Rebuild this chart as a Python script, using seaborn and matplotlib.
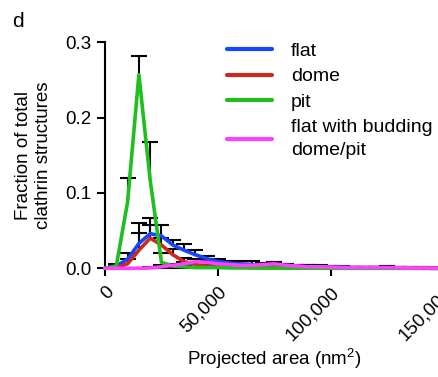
import matplotlib
matplotlib.use("Agg")
import matplotlib.pyplot as plt
from matplotlib.lines import Line2D
from matplotlib.ticker import FuncFormatter
import seaborn as sns
import pandas as pd
import numpy as np

# ---- data ----
area = [0, 5000, 10000, 15000, 20000, 25000, 30000, 35000, 40000, 45000,
        50000, 55000, 60000, 65000, 70000, 75000, 80000, 85000, 90000, 95000,
        100000, 105000, 110000, 115000, 120000, 125000, 130000, 135000, 140000,
        145000, 150000]

flat = [0.000, 0.003, 0.012, 0.033, 0.046, 0.043, 0.031, 0.024, 0.018, 0.013,
        0.009, 0.007, 0.006, 0.005, 0.003, 0.004, 0.004, 0.003, 0.002, 0.002,
        0.002, 0.0015, 0.001, 0.001, 0.001, 0.001, 0.0005, 0.0005, 0.0003, 0.0, 0.0]
flat_err = [0.0, 0.002, 0.008, 0.014, 0.012, 0.015, 0.006, 0.008, 0.006, 0.003,
            0.003, 0.003, 0.004, 0.005, 0.003, 0.004, 0.002, 0.002, 0.002, 0.002,
            0.001, 0.001, 0.001, 0.001, 0.001, 0.002, 0.001, 0.001, 0.001, 0.0, 0.0]

dome = [0.000, 0.001, 0.006, 0.024, 0.040, 0.031, 0.018, 0.009, 0.005, 0.003,
        0.002, 0.002, 0.0015, 0.001, 0.001, 0.001, 0.001, 0.0005, 0.0005, 0.0005,
        0.0005, 0.0003, 0.0003, 0.0003, 0.0002, 0.0002, 0.0001, 0.0001, 0.0, 0.0, 0.0]
dome_err = [0.0, 0.001, 0.006, 0.036, 0.027, 0.009, 0.008, 0.005, 0.003, 0.002,
            0.002, 0.002, 0.001, 0.001, 0.001, 0.001, 0.001, 0.001, 0.001, 0.001,
            0.001, 0.001, 0.001, 0.001, 0.001, 0.001, 0.001, 0.0005, 0.0, 0.0, 0.0]

pit = [0.000, 0.003, 0.088, 0.257, 0.117, 0.008, 0.003, 0.002, 0.001, 0.001,
       0.001, 0.0005, 0.0005, 0.0005, 0.0003, 0.0003, 0.0002, 0.0002, 0.0001, 0.0001,
       0.0, 0.0, 0.0, 0.0, 0.0, 0.0, 0.0, 0.0, 0.0, 0.0, 0.0]
pit_err = [0.0, 0.003, 0.032, 0.025, 0.050, 0.012, 0.003, 0.002, 0.001, 0.001,
           0.001, 0.001, 0.001, 0.001, 0.0005, 0.0005, 0.0005, 0.0005, 0.0, 0.0,
           0.0, 0.0, 0.0, 0.0, 0.0, 0.0, 0.0, 0.0, 0.0, 0.0, 0.0]

budding = [0.0, 0.0, 0.0, 0.0, 0.0005, 0.002, 0.004, 0.006, 0.009, 0.008,
           0.006, 0.005, 0.004, 0.004, 0.005, 0.006, 0.004, 0.003, 0.002, 0.002,
           0.0015, 0.001, 0.001, 0.001, 0.001, 0.001, 0.0008, 0.0005, 0.0003, 0.0002, 0.0]
budding_err = [0.0, 0.0, 0.0, 0.0, 0.001, 0.002, 0.002, 0.003, 0.003, 0.003,
               0.002, 0.002, 0.002, 0.002, 0.002, 0.003, 0.002, 0.001, 0.002, 0.001,
               0.001, 0.001, 0.001, 0.001, 0.001, 0.002, 0.001, 0.001, 0.001, 0.001, 0.0]

labels = ["flat", "dome", "pit", "flat with budding\ndome/pit"]
colors = ["#1446ff", "#cc2a1e", "#1fbf1f", "#ff40ff"]
series = [flat, dome, pit, budding]
errors = [flat_err, dome_err, pit_err, budding_err]

rows = []
for lab, vals in zip(labels, series):
    for a, v in zip(area, vals):
        rows.append({"area": a, "fraction": v, "type": lab})
df = pd.DataFrame(rows)

# ---- plot ----
sns.set_style("ticks")
plt.rcParams["font.family"] = ["Liberation Sans", "DejaVu Sans"]
plt.rcParams["mathtext.fontset"] = "custom"
plt.rcParams["mathtext.rm"] = "Liberation Sans"
plt.rcParams["text.color"] = "black"
plt.rcParams["axes.labelcolor"] = "black"
plt.rcParams["xtick.color"] = "black"
plt.rcParams["ytick.color"] = "black"

fig = plt.figure(figsize=(4.38, 3.77), dpi=100)
ax = fig.add_axes([0.2397, 0.2883, 0.774, 0.5995])

# upward-only error bars, drawn beneath the lines
for vals, err in zip(series, errors):
    v = np.asarray(vals)
    e = np.asarray(err)
    m = e > 0
    x = np.asarray(area)[m]
    ax.vlines(x, v[m], v[m] + e[m], colors="black", linewidth=1.5,
              zorder=2, clip_on=False)
    ax.plot(x, v[m] + e[m], linestyle="none", marker="_", markersize=12,
            markeredgewidth=1.5, color="black", zorder=2, clip_on=False)

sns.lineplot(data=df, x="area", y="fraction", hue="type", hue_order=labels,
             palette=colors, linewidth=2.6, legend=False, ax=ax, zorder=3)
for ln in ax.lines:
    ln.set_clip_on(False)

ax.set_xlim(0, 150000)
ax.set_ylim(0, 0.3)
ax.set_xticks([0, 50000, 100000, 150000])
ax.xaxis.set_major_formatter(FuncFormatter(lambda v, p: f"{int(v):,}"))
ax.set_yticks([0.0, 0.1, 0.2, 0.3])
ax.set_yticklabels(["0.0", "0.1", "0.2", "0.3"])
ax.tick_params(axis="both", direction="out", length=6, width=1.5,
               labelsize=13.5, colors="black")
for lbl in ax.get_xticklabels():
    lbl.set_rotation(45)
    lbl.set_ha("right")
    lbl.set_rotation_mode("anchor")
ax.tick_params(axis="x", pad=5)

for s in ["top", "right"]:
    ax.spines[s].set_visible(False)
for s in ["left", "bottom"]:
    ax.spines[s].set_linewidth(1.5)
    ax.spines[s].set_color("black")

ax.set_xlabel("Projected area (nm$^2$)", fontsize=13.5, labelpad=2)
ax.set_ylabel("Fraction of total\nclathrin structures", fontsize=13.5,
              labelpad=10, linespacing=1.2)

handles = [Line2D([0], [0], color=c, lw=3) for c in colors]
leg = fig.legend(handles, labels, loc="upper left",
                 bbox_to_anchor=(227 / 438, 1 - 42 / 377), frameon=False,
                 fontsize=14, handlelength=2.3, handletextpad=1.0,
                 labelspacing=0.42, borderpad=0, borderaxespad=0)
for t in leg.get_texts():
    t.set_linespacing(1.45)

fig.text(12 / 438, 1 - 12 / 377, "d", fontsize=15, va="top", ha="left")

fig.savefig("out.png", dpi=100)
